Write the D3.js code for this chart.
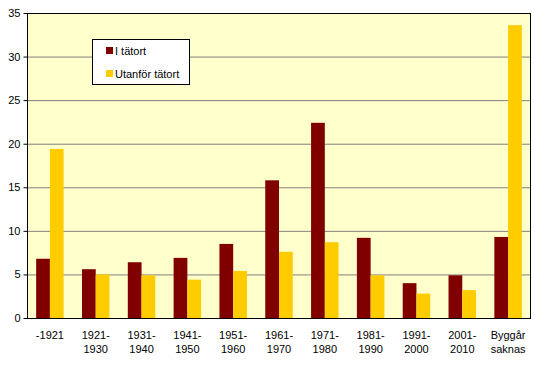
<!DOCTYPE html>
<html><head><meta charset="utf-8">
<script src="https://cdn.jsdelivr.net/npm/d3@7"></script>
<style>body{margin:0;background:#fff}svg{display:block;font-family:"Liberation Sans",Arial,sans-serif}</style>
</head><body>
<svg id="c" width="535" height="365"></svg>
<script>
const categories = [["-1921"],["1921-","1930"],["1931-","1940"],["1941-","1950"],["1951-","1960"],["1961-","1970"],["1971-","1980"],["1981-","1990"],["1991-","2000"],["2001-","2010"],["Byggår","saknas"]];
const seriesNames = ["I tätort","Utanför tätort"];
const iTatort = [6.8,5.6,6.4,6.9,8.5,15.8,22.4,9.2,4.0,4.9,9.3];
const utanfor = [19.4,5.0,4.9,4.4,5.4,7.6,8.7,4.9,2.8,3.2,33.6];
const yTicks = [0,5,10,15,20,25,30,35];
const colors = ["#800000","#FFCC00"];

const svg = d3.select("#c");
const L=27,T=13,R=531,B=318;
const keys = categories.map((d,i)=>i);
const x = d3.scaleBand().domain(keys).range([L,R]).paddingInner(0.4).paddingOuter(0.2);
const x1 = d3.scaleBand().domain([0,1]).range([0,x.bandwidth()]);
const y = d3.scaleLinear().domain([0,35]).range([B,T]);

svg.append("rect").attr("x",L).attr("y",T).attr("width",R-L).attr("height",B-T).attr("fill","#FFFFCC");
svg.append("g").selectAll("line").data(yTicks.filter(t=>t>0&&t<35)).join("line")
  .attr("x1",L).attr("x2",R).attr("y1",d=>y(d)+0.5).attr("y2",d=>y(d)+0.5)
  .attr("stroke","#808080").attr("stroke-width",1);

const data=[iTatort,utanfor];
data.forEach((s,si)=>{
  svg.append("g").selectAll("rect").data(s).join("rect")
    .attr("x",(d,i)=>x(i)+x1(si)).attr("width",x1.bandwidth())
    .attr("y",d=>y(d)).attr("height",d=>B-y(d)).attr("fill",colors[si]);
});
svg.append("rect").attr("x",L+0.5).attr("y",T+0.5).attr("width",R-L-1).attr("height",B-T).attr("fill","none").attr("stroke","#000");

const ya = svg.append("g").attr("transform",`translate(${L+0.5},0)`)
  .call(d3.axisLeft(y).tickValues(yTicks).tickSize(4).tickPadding(3).tickFormat(d3.format("d")));
ya.select(".domain").remove();
ya.selectAll("line").attr("stroke","#000");
ya.selectAll("text").attr("font-size","11px").attr("fill","#000").attr("font-family","Liberation Sans, Arial, sans-serif");

const xa = svg.append("g").attr("transform",`translate(0,${B})`)
  .call(d3.axisBottom(x).tickSize(0).tickFormat(""));
xa.select(".domain").remove();
xa.selectAll(".tick").each(function(d){
  const t=d3.select(this).append("text").attr("fill","#000").attr("font-size","11px")
    .attr("text-anchor","middle").attr("font-family","Liberation Sans, Arial, sans-serif");
  categories[d].forEach((ln,j)=>t.append("tspan").attr("x",0).attr("y",21+j*14).text(ln));
});

const lg = svg.append("g");
lg.append("rect").attr("x",92.5).attr("y",39.5).attr("width",97).attr("height",45).attr("fill","#fff").attr("stroke","#000");
seriesNames.forEach((n,i)=>{
  lg.append("rect").attr("x",106).attr("y",47+i*23).attr("width",7).attr("height",7).attr("fill",colors[i]);
  lg.append("text").attr("x",115).attr("y",55+i*23).attr("font-size","11px").attr("fill","#000").text(n);
});
</script>
</body></html>
